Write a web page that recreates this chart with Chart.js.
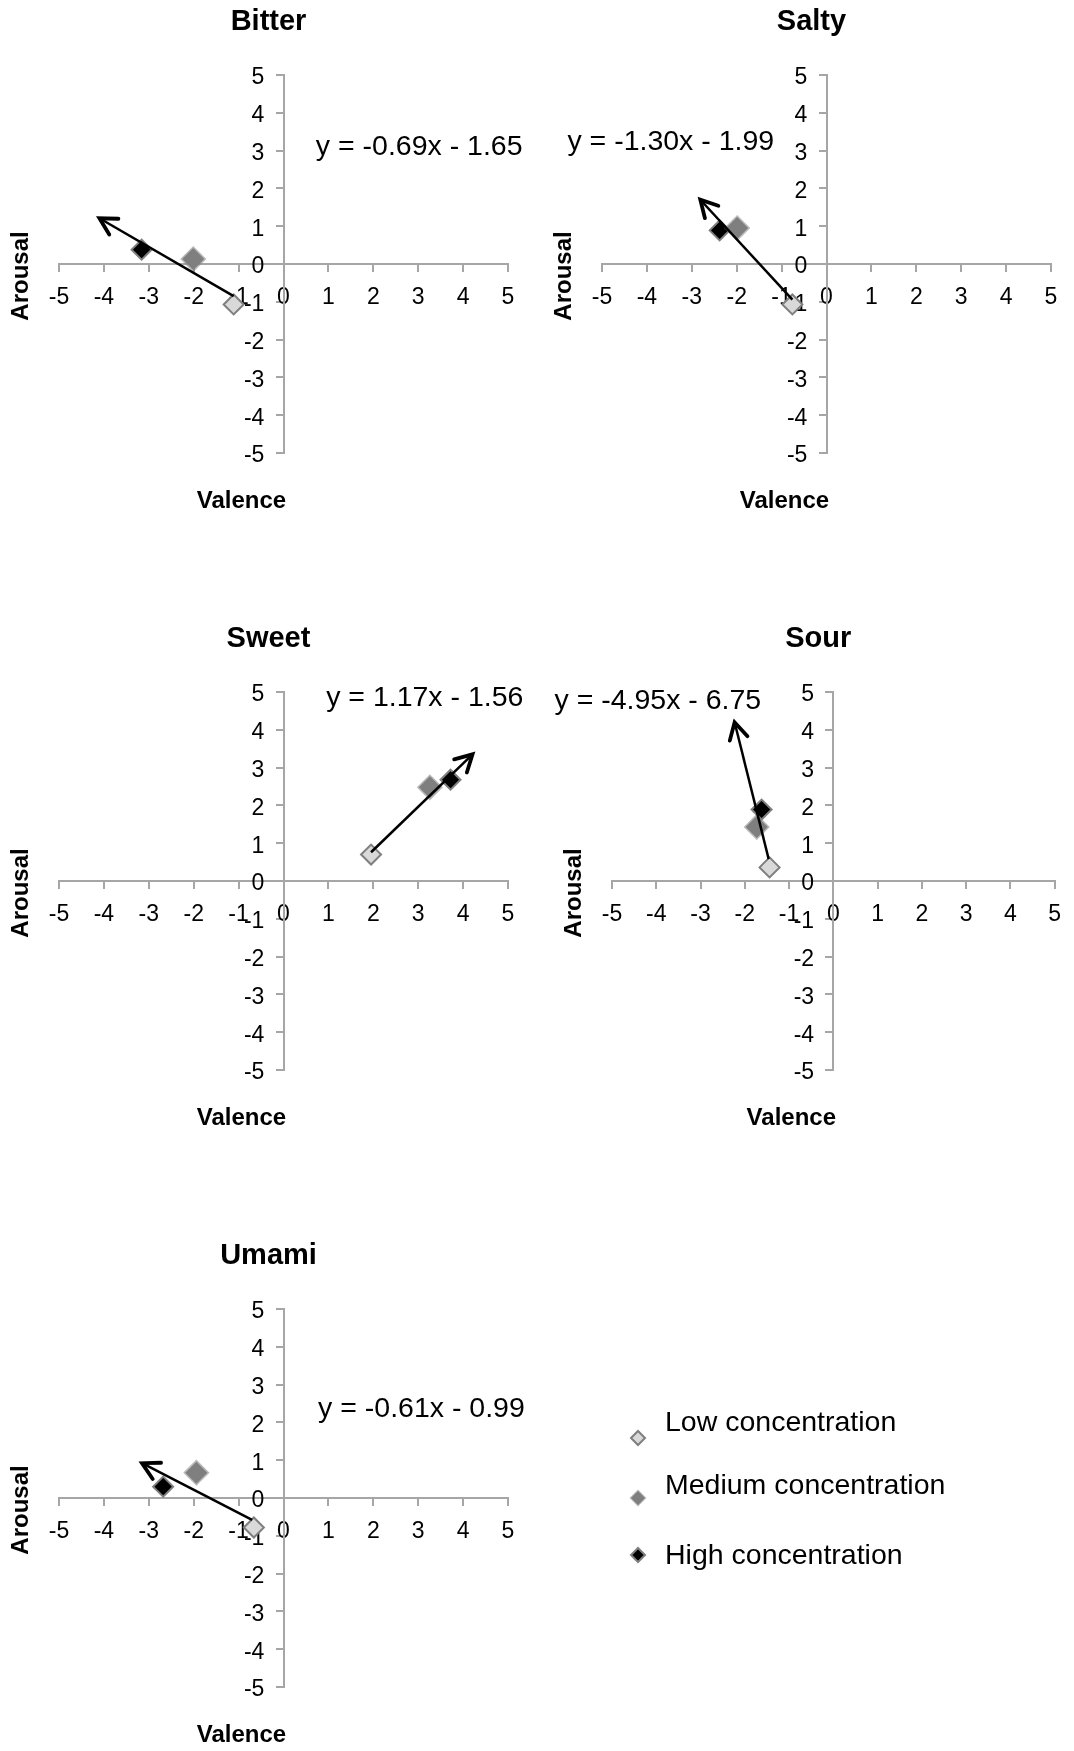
<!DOCTYPE html>
<html>
<head>
<meta charset="utf-8">
<title>Taste valence / arousal</title>
<script src="https://cdn.jsdelivr.net/npm/chart.js"></script>
<style>
    html, body { margin: 0; padding: 0; background: #fff; overflow: hidden; }
    body { width: 1074px; height: 1751px; position: relative; }
    canvas { position: absolute; }
</style>
</head>
<body>
<canvas id="c0"></canvas>
<canvas id="c1"></canvas>
<canvas id="c2"></canvas>
<canvas id="c3"></canvas>
<canvas id="c4"></canvas>
<script>
// Data
const tastes = ['Bitter', 'Salty', 'Sweet', 'Sour', 'Umami'];
const seriesNames = ['Low concentration', 'Medium concentration', 'High concentration'];
const tickValues = [-5, -4, -3, -2, -1, 0, 1, 2, 3, 4, 5];

const lowX  = [-1.11, -0.76, 1.95, -1.44, -0.66];
const lowY  = [-1.07, -1.07, 0.70, 0.36, -0.78];
const medX  = [-2.01, -1.99, 3.26, -1.73, -1.94];
const medY  = [0.13, 0.95, 2.48, 1.43, 0.67];
const highX = [-3.16, -2.38, 3.72, -1.62, -2.68];
const highY = [0.38, 0.89, 2.68, 1.89, 0.30];

// trend arrows: start / end
const arrowX0 = [-1.11, -0.76, 1.95, -1.46, -0.70];
const arrowY0 = [-0.85, -0.94, 0.76, 0.58, -0.58];
const arrowX1 = [-4.10, -2.81, 4.21, -2.23, -3.15];
const arrowY1 = [1.21, 1.70, 3.35, 4.20, 0.92];

const equations = ['y = -0.69x - 1.65', 'y = -1.30x - 1.99', 'y = 1.17x - 1.56', 'y = -4.95x - 6.75', 'y = -0.61x - 0.99'];

// Layout
const FONT = '"Liberation Sans", Arial, sans-serif';
const AXIS_GRAY = '#a6a6a6';
const panels = [
    { left: 0,   top: 0,    w: 537,  h: 537, pad: { left: 59, top: 75,  right: 29,  bottom: 84 }, eqX: 0.72,  eqY: 3.10 },
    { left: 537, top: 0,    w: 537,  h: 537, pad: { left: 65, top: 75,  right: 23,  bottom: 84 }, eqX: -5.77, eqY: 3.22 },
    { left: 0,   top: 600,  w: 537,  h: 537, pad: { left: 59, top: 92,  right: 29,  bottom: 67 }, eqX: 0.95,  eqY: 4.85 },
    { left: 537, top: 600,  w: 537,  h: 537, pad: { left: 75, top: 92,  right: 13,  bottom: 67 }, eqX: -6.30, eqY: 4.76 },
    { left: 0,   top: 1200, w: 1074, h: 551, pad: { left: 59, top: 109, right: 566, bottom: 64 }, eqX: 0.77,  eqY: 2.35 }
];
const seriesStyle = [
    { bg: '#d9d9d9', border: '#7f7f7f', radius: 10, bw: 2 },
    { bg: '#7f7f7f', border: 'rgba(127,127,127,0.55)', radius: 11, bw: 3 },
    { bg: '#000000', border: '#7f7f7f', radius: 10, bw: 2 }
];

Chart.defaults.font.family = FONT;
Chart.defaults.color = '#000';

// titles, axis names, equation
const panelText = {
    id: 'panelText',
    afterDraw(chart, args, opts) {
        const { ctx, chartArea: a, scales } = chart;
        const cx = (a.left + a.right) / 2;
        const y0 = scales.y.getPixelForValue(0);
        ctx.save();
        ctx.fillStyle = '#000';
        ctx.textAlign = 'center';
        ctx.textBaseline = 'middle';
        ctx.font = 'bold 29px ' + FONT;
        ctx.fillText(opts.title, cx - 15, a.top - 53);
        ctx.font = 'bold 24px ' + FONT;
        ctx.fillText('Valence', cx - 42, a.bottom + 48);
        ctx.save();
        ctx.translate(a.left - 38, y0 + 12);
        ctx.rotate(-Math.PI / 2);
        ctx.fillText('Arousal', 0, 0);
        ctx.restore();
        ctx.font = '28.5px ' + FONT;
        ctx.textAlign = 'left';
        ctx.fillText(opts.equation, scales.x.getPixelForValue(opts.eqX), scales.y.getPixelForValue(opts.eqY));
        ctx.restore();
    }
};

// open arrow head at the end of dataset 0
const arrowHead = {
    id: 'arrowHead',
    afterDatasetsDraw(chart) {
        const pts = chart.getDatasetMeta(0).data;
        if (pts.length < 2) return;
        const p0 = pts[0], p1 = pts[pts.length - 1];
        const ang = Math.atan2(p1.y - p0.y, p1.x - p0.x);
        const len = 19, spread = 0.5;
        const ctx = chart.ctx;
        ctx.save();
        ctx.strokeStyle = '#000';
        ctx.lineWidth = 3.8;
        ctx.lineCap = 'round';
        ctx.lineJoin = 'miter';
        ctx.beginPath();
        ctx.moveTo(p1.x - len * Math.cos(ang - spread), p1.y - len * Math.sin(ang - spread));
        ctx.lineTo(p1.x, p1.y);
        ctx.lineTo(p1.x - len * Math.cos(ang + spread), p1.y - len * Math.sin(ang + spread));
        ctx.stroke();
        ctx.restore();
    }
};

// legend to the right of the last panel
const sideLegend = {
    id: 'sideLegend',
    afterDraw(chart, args, opts) {
        if (!opts.show) return;
        const ctx = chart.ctx;
        ctx.save();
        chart.data.datasets.slice(1).forEach((ds, i) => {
            const x = opts.markerX, y = opts.markerY[i], r = 7;
            ctx.beginPath();
            ctx.moveTo(x - r, y);
            ctx.lineTo(x, y - r);
            ctx.lineTo(x + r, y);
            ctx.lineTo(x, y + r);
            ctx.closePath();
            ctx.fillStyle = ds.backgroundColor;
            ctx.fill();
            ctx.lineWidth = 2;
            ctx.strokeStyle = ds.borderColor;
            ctx.stroke();
            ctx.fillStyle = '#000';
            ctx.font = '28.5px ' + FONT;
            ctx.textAlign = 'left';
            ctx.textBaseline = 'middle';
            ctx.fillText(ds.label, opts.textX, opts.textY[i]);
        });
        ctx.restore();
    }
};

// y labels sit on the axis line when the axis is placed at x = 0, so pad them with spaces
function axis(pos, pad, isY) {
    return {
        type: 'linear',
        min: -5,
        max: 5,
        position: pos,
        afterBuildTicks: s => { s.ticks = tickValues.map(v => ({ value: v })); },
        ticks: {
            color: '#000',
            font: { size: 23 },
            padding: pad,
            labelOffset: isY ? 3 : 0,
            autoSkip: false,
            maxRotation: 0,
            minRotation: 0,
            callback: v => isY ? v + '   ' : String(v)
        },
        grid: { drawOnChartArea: false, drawTicks: true, tickLength: 7, color: AXIS_GRAY, lineWidth: 2 },
        border: { display: true, color: AXIS_GRAY, width: 2 }
    };
}

tastes.forEach((taste, i) => {
    const p = panels[i];
    const canvas = document.getElementById('c' + i);
    canvas.width = p.w;
    canvas.height = p.h;
    canvas.style.left = p.left + 'px';
    canvas.style.top = p.top + 'px';

    const xs = [lowX, medX, highX];
    const ys = [lowY, medY, highY];
    const markerSets = seriesNames.map((name, s) => ({
        label: name,
        data: [{ x: xs[s][i], y: ys[s][i] }],
        pointStyle: 'rectRot',
        pointRadius: seriesStyle[s].radius,
        pointBorderWidth: seriesStyle[s].bw,
        backgroundColor: seriesStyle[s].bg,
        borderColor: seriesStyle[s].border,
        order: 1
    }));

    new Chart(canvas, {
        type: 'scatter',
        data: {
            datasets: [{
                label: 'trend',
                data: [{ x: arrowX0[i], y: arrowY0[i] }, { x: arrowX1[i], y: arrowY1[i] }],
                showLine: true,
                borderColor: '#000',
                borderWidth: 2.5,
                pointRadius: 0,
                order: 0
            }].concat(markerSets)
        },
        options: {
            responsive: false,
            animation: false,
            devicePixelRatio: 1,
            layout: { padding: p.pad },
            scales: { x: axis({ y: 0 }, 13, false), y: axis({ x: 0 }, 15, true) },
            plugins: {
                legend: { display: false },
                tooltip: { enabled: false },
                panelText: { title: taste, equation: equations[i], eqX: p.eqX, eqY: p.eqY },
                sideLegend: i === 4
                    ? { show: true, markerX: 638, textX: 665, markerY: [238, 298, 355], textY: [223, 286, 356] }
                    : { show: false }
            }
        },
        plugins: [panelText, arrowHead, sideLegend]
    });
});
</script>
</body>
</html>
